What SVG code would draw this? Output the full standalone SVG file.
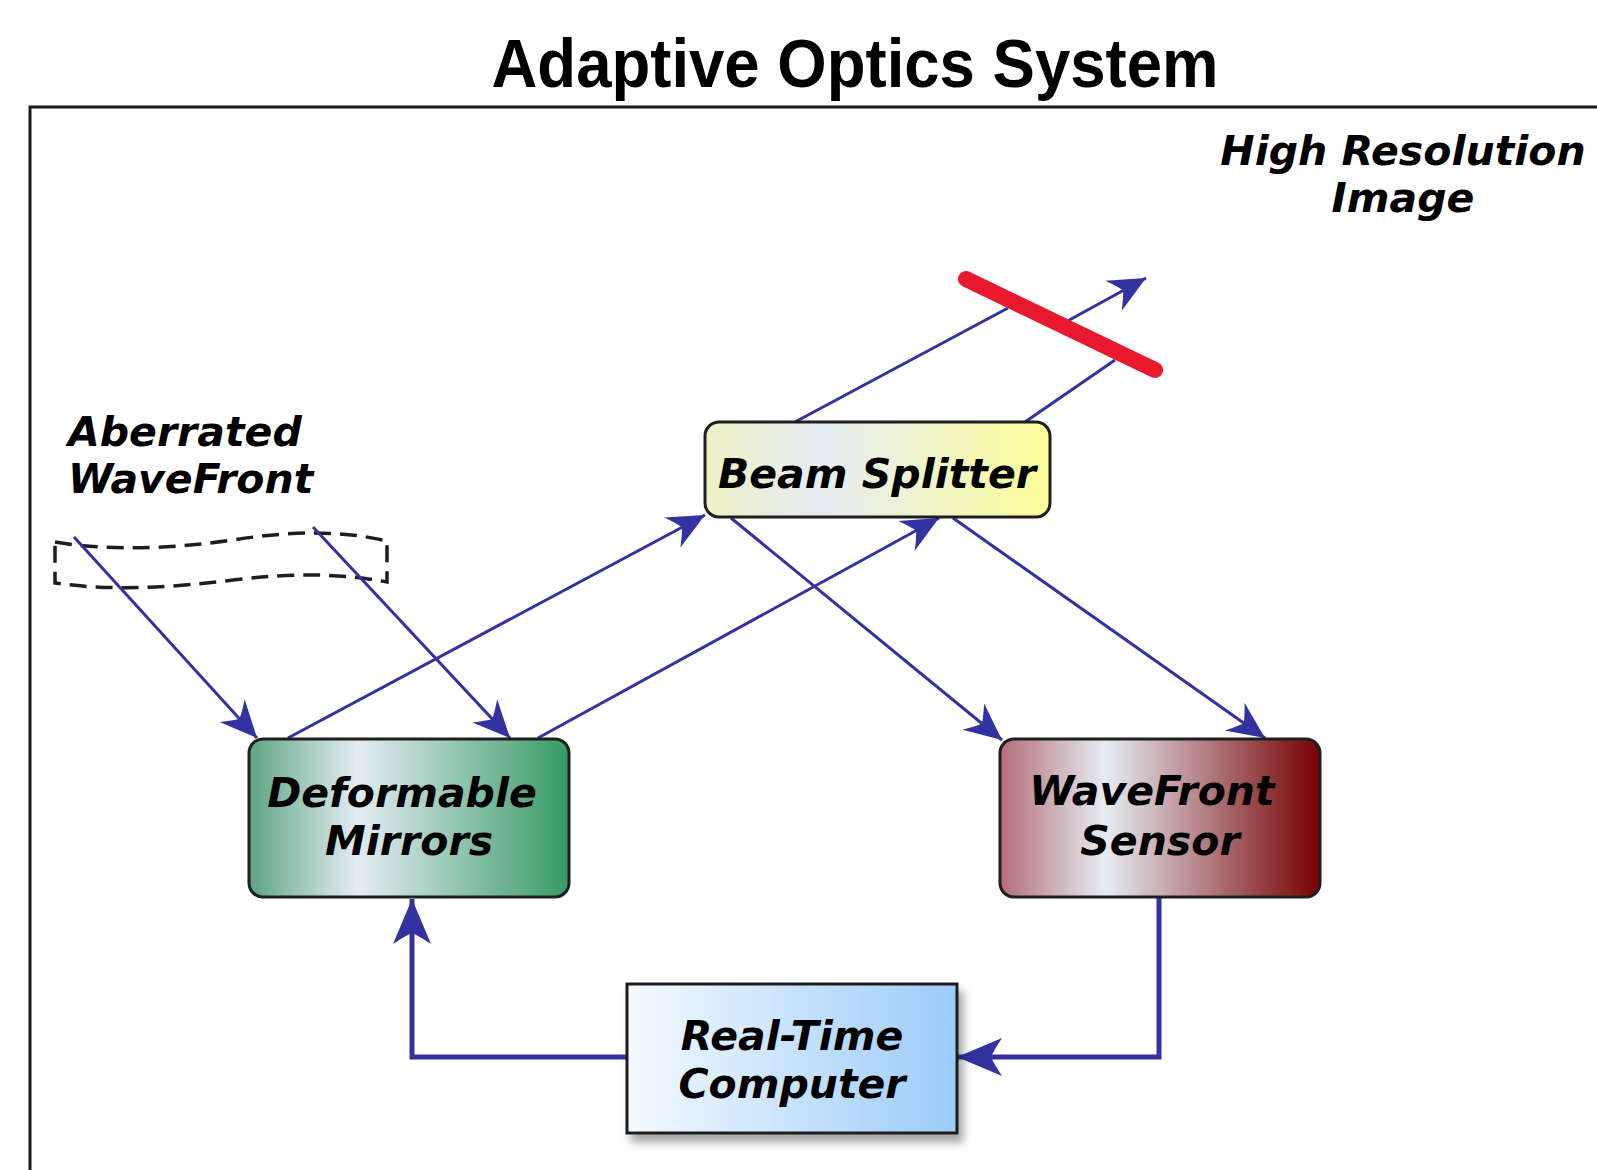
<svg xmlns="http://www.w3.org/2000/svg" width="1597" height="1170" viewBox="0 0 1597 1170">
  <style>
    .lbl { font-family: "DejaVu Sans", "Liberation Sans", sans-serif; font-weight: bold; font-style: oblique; font-size: 41px; fill: #000; }
    .mid { text-anchor: middle; }
    .box { stroke: #1e1e1e; stroke-width: 3; }
    .ray { fill: none; stroke: #3232a0; stroke-width: 3; }
    .feed { fill: none; stroke: #3232a0; stroke-width: 5; }
  </style>
  <defs>
    <marker id="tipS" markerUnits="userSpaceOnUse" viewBox="-40 -20 42 40" refX="0" refY="0" markerWidth="42" markerHeight="40" orient="auto" overflow="visible">
      <path d="M0,0 L-37,-17 Q-29,-6 -26,0 Q-29,6 -37,17 Z" fill="#3232a0"/>
    </marker>
    <marker id="tipL" markerUnits="userSpaceOnUse" viewBox="-48 -21 50 42" refX="0" refY="0" markerWidth="50" markerHeight="42" orient="auto" overflow="visible">
      <path d="M0,0 L-45,-19 Q-37,-7 -34,0 Q-37,7 -45,19 Z" fill="#3232a0"/>
    </marker>
    <linearGradient id="gBS" x1="0" y1="0" x2="1" y2="0">
      <stop offset="0" stop-color="#eef1c6"/>
      <stop offset="0.34" stop-color="#e6ecf4"/>
      <stop offset="1" stop-color="#fcfc98"/>
    </linearGradient>
    <linearGradient id="gDM" x1="0" y1="0" x2="1" y2="0">
      <stop offset="0" stop-color="#5ea582"/>
      <stop offset="0.34" stop-color="#e4ecf4"/>
      <stop offset="1" stop-color="#389a64"/>
    </linearGradient>
    <linearGradient id="gWS" x1="0" y1="0" x2="1" y2="0">
      <stop offset="0" stop-color="#b46e76"/>
      <stop offset="0.33" stop-color="#e6ecf4"/>
      <stop offset="1" stop-color="#760000"/>
    </linearGradient>
    <linearGradient id="gRT" x1="0" y1="0" x2="1" y2="0">
      <stop offset="0" stop-color="#f4faff"/>
      <stop offset="1" stop-color="#9ccbf8"/>
    </linearGradient>
    <filter id="shadow" x="-10%" y="-10%" width="125%" height="130%">
      <feDropShadow dx="5" dy="8" stdDeviation="4" flood-color="#000" flood-opacity="0.35"/>
    </filter>
  </defs>

  <rect width="1597" height="1170" fill="#ffffff"/>

  <!-- title and outer frame -->
  <text x="855" y="87" text-anchor="middle" font-family="'Liberation Sans', Arial, sans-serif" font-weight="bold" font-size="68" textLength="727" lengthAdjust="spacingAndGlyphs">Adaptive Optics System</text>
  <path d="M30,1175 V107 H1600" fill="none" stroke="#1a1a1a" stroke-width="3"/>

  <!-- free labels -->
  <g id="label-aberrated">
    <text class="lbl" x="68" y="446">Aberrated</text>
    <text class="lbl" x="68" y="493">WaveFront</text>
  </g>
  <g id="label-image">
    <text class="lbl mid" x="1403" y="165">High Resolution</text>
    <text class="lbl mid" x="1403" y="212">Image</text>
  </g>

  <!-- incoming wavefront -->
  <g id="wavefront">
    <path d="M55,542 C110,551 170,549 233,540 C290,531 340,530 387,541 L387,582 C340,573 290,573 233,580 C170,588 110,591 55,583 Z" fill="none" stroke="#1e1e1e" stroke-width="3.5" stroke-dasharray="17 9"/>
  </g>

  <g id="connectors">
    <path class="ray" d="M74,537 L257,738" marker-end="url(#tipS)"/>
    <path class="ray" d="M313,527 L510,738" marker-end="url(#tipS)"/>
    <path class="ray" d="M288,738 L705,515" marker-end="url(#tipS)"/>
    <path class="ray" d="M538,738 L939,518" marker-end="url(#tipS)"/>
    <path class="ray" d="M731,518 L1002,740" marker-end="url(#tipS)"/>
    <path class="ray" d="M953,518 L1265,738" marker-end="url(#tipS)"/>
    <path class="ray" d="M795,422 L1008,308"/>
    <path class="ray" d="M1025,422 L1115,360"/>
    <path class="ray" d="M1062,324 L1146,278" marker-end="url(#tipS)"/>
    <path class="feed" d="M627,1057 H412 V899" marker-end="url(#tipL)"/>
    <path class="feed" d="M1159,897 V1057 H957" marker-end="url(#tipL)"/>
  </g>

  <!-- output mirror -->
  <g id="mirror">
    <line x1="966" y1="279" x2="1155" y2="370" stroke="#e8192c" stroke-width="16" stroke-linecap="round"/>
  </g>

  <g id="beam-splitter">
    <rect class="box" x="705" y="422" width="345" height="95" rx="14" fill="url(#gBS)"/>
    <text class="lbl mid" x="877" y="488">Beam Splitter</text>
  </g>

  <g id="deformable-mirrors">
    <rect class="box" x="249" y="739" width="320" height="158" rx="14" fill="url(#gDM)"/>
    <text class="lbl mid" x="402" y="807">Deformable</text>
    <text class="lbl mid" x="409" y="855">Mirrors</text>
  </g>

  <g id="wavefront-sensor">
    <rect class="box" x="1000" y="739" width="320" height="158" rx="14" fill="url(#gWS)"/>
    <text class="lbl mid" x="1152" y="805">WaveFront</text>
    <text class="lbl mid" x="1160" y="855">Sensor</text>
  </g>

  <g id="real-time-computer">
    <rect class="box" x="627" y="984" width="330" height="149" fill="url(#gRT)" filter="url(#shadow)"/>
    <text class="lbl mid" x="792" y="1050">Real-Time</text>
    <text class="lbl mid" x="792" y="1098">Computer</text>
  </g>
</svg>
